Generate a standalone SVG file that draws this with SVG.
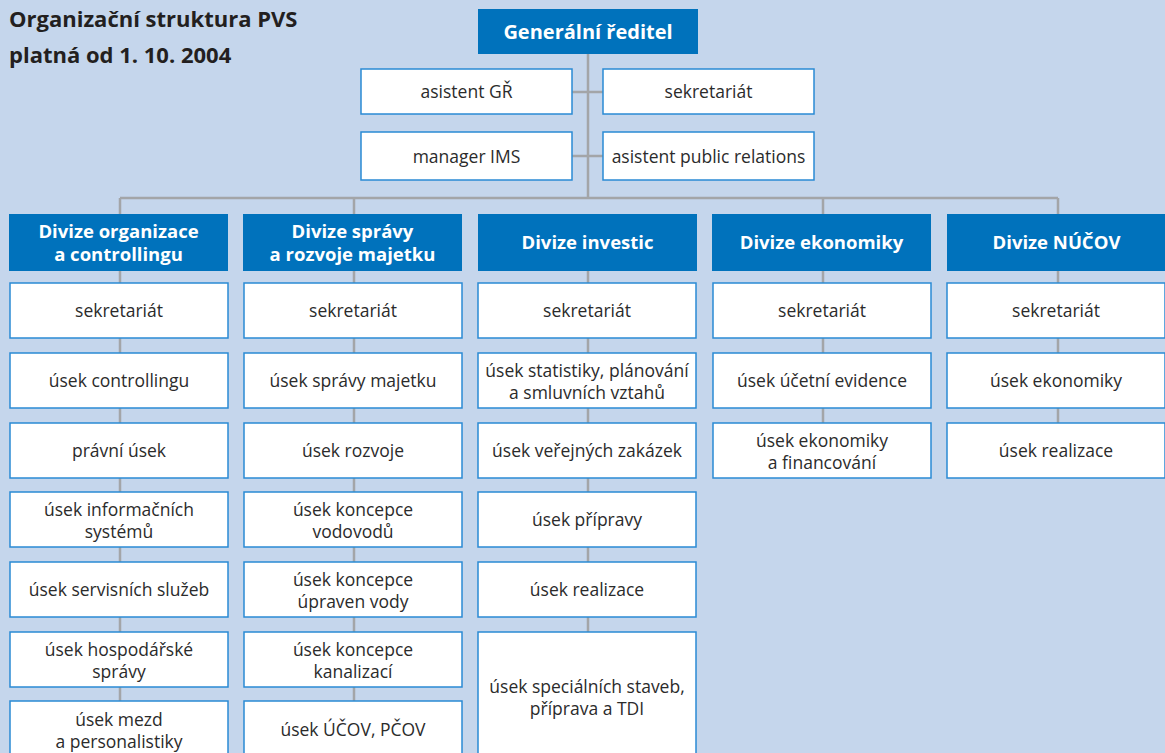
<svg xmlns="http://www.w3.org/2000/svg" width="1165" height="753" viewBox="0 0 1165 753">
<style>
.bg{fill:#c5d6ec}
.hd{fill:#0072bc}
.bx{fill:#ffffff;stroke:#2a8ad4;stroke-width:1.5}
.ln{stroke:#a3a5a8;stroke-width:2.5;fill:none}
.t{font-family:"Open Sans","Noto Sans","Liberation Sans",sans-serif;font-size:17.5px;fill:#2b2b2b;text-anchor:middle}
.h{font-family:"Open Sans","Noto Sans","Liberation Sans",sans-serif;font-size:18.5px;font-weight:bold;fill:#ffffff;text-anchor:middle}
.ti{font-family:"Open Sans","Noto Sans","Liberation Sans",sans-serif;font-size:22px;font-weight:bold;fill:#231f20}
</style>
<rect class="bg" x="0" y="0" width="1165" height="753"/>
<g id="title">
<text class="ti" x="9" y="27">Organizační struktura PVS</text>
<text class="ti" x="9" y="63">platná od 1. 10. 2004</text>
</g>
<g id="connectors">
<path class="ln" d="M588 54 V198 M572 92 H603 M572 156 H603 M120 198 H1058 M120 198 V214 M354 198 V214 M823 198 V214 M1058 198 V214"/>
<path class="ln" d="M120 270 V702 M354 270 V702 M588 270 V632 M823 270 V423 M1058 270 V423"/>
</g>
<g id="gr"><rect class="hd" x="478" y="9" width="220" height="45"/><text class="h" x="588" y="39" style="font-size:20px">Generální ředitel</text></g>
<g id="asistent-gr"><rect class="bx" x="361" y="69" width="211" height="45"/><text class="t" x="466.5" y="98">asistent GŘ</text></g>
<g id="sekretariat-gr"><rect class="bx" x="603" y="69" width="211" height="45"/><text class="t" x="708.5" y="98">sekretariát</text></g>
<g id="manager-ims"><rect class="bx" x="361" y="132" width="211" height="48"/><text class="t" x="466.5" y="163">manager IMS</text></g>
<g id="asistent-pr"><rect class="bx" x="603" y="132" width="211" height="48"/><text class="t" x="708.5" y="163">asistent public relations</text></g>

<g id="div1"><rect class="hd" x="9" y="214" width="219" height="57"/><text class="h" x="118.5" y="238">Divize organizace</text><text class="h" x="118.5" y="261">a controllingu</text></g>
<g id="div2"><rect class="hd" x="243" y="214" width="219" height="57"/><text class="h" x="352.5" y="238">Divize správy</text><text class="h" x="352.5" y="261">a rozvoje majetku</text></g>
<g id="div3"><rect class="hd" x="478" y="214" width="219" height="57"/><text class="h" x="587.5" y="249">Divize investic</text></g>
<g id="div4"><rect class="hd" x="712" y="214" width="219" height="57"/><text class="h" x="821.5" y="249">Divize ekonomiky</text></g>
<g id="div5"><rect class="hd" x="947" y="214" width="219" height="57"/><text class="h" x="1056.5" y="249">Divize NÚČOV</text></g>

<g id="c1-1"><rect class="bx" x="10" y="283" width="218" height="55"/><text class="t" x="119" y="317">sekretariát</text></g>
<g id="c1-2"><rect class="bx" x="10" y="353" width="218" height="55"/><text class="t" x="119" y="387">úsek controllingu</text></g>
<g id="c1-3"><rect class="bx" x="10" y="423" width="218" height="55"/><text class="t" x="119" y="457">právní úsek</text></g>
<g id="c1-4"><rect class="bx" x="10" y="492" width="218" height="55"/><text class="t" x="119" y="515.5">úsek informačních</text><text class="t" x="119" y="537.5">systémů</text></g>
<g id="c1-5"><rect class="bx" x="10" y="562" width="218" height="55"/><text class="t" x="119" y="596">úsek servisních služeb</text></g>
<g id="c1-6"><rect class="bx" x="10" y="632" width="218" height="55"/><text class="t" x="119" y="655.5">úsek hospodářské</text><text class="t" x="119" y="677.5">správy</text></g>
<g id="c1-7"><rect class="bx" x="10" y="701" width="218" height="62"/><text class="t" x="119" y="725.5">úsek mezd</text><text class="t" x="119" y="747.5">a personalistiky</text></g>

<g id="c2-1"><rect class="bx" x="244" y="283" width="218" height="55"/><text class="t" x="353" y="317">sekretariát</text></g>
<g id="c2-2"><rect class="bx" x="244" y="353" width="218" height="55"/><text class="t" x="353" y="387">úsek správy majetku</text></g>
<g id="c2-3"><rect class="bx" x="244" y="423" width="218" height="55"/><text class="t" x="353" y="457">úsek rozvoje</text></g>
<g id="c2-4"><rect class="bx" x="244" y="492" width="218" height="55"/><text class="t" x="353" y="515.5">úsek koncepce</text><text class="t" x="353" y="537.5">vodovodů</text></g>
<g id="c2-5"><rect class="bx" x="244" y="562" width="218" height="55"/><text class="t" x="353" y="585.5">úsek koncepce</text><text class="t" x="353" y="607.5">úpraven vody</text></g>
<g id="c2-6"><rect class="bx" x="244" y="632" width="218" height="55"/><text class="t" x="353" y="655.5">úsek koncepce</text><text class="t" x="353" y="677.5">kanalizací</text></g>
<g id="c2-7"><rect class="bx" x="244" y="701" width="218" height="62"/><text class="t" x="353" y="736">úsek ÚČOV, PČOV</text></g>

<g id="c3-1"><rect class="bx" x="478" y="283" width="218" height="55"/><text class="t" x="587" y="317">sekretariát</text></g>
<g id="c3-2"><rect class="bx" x="478" y="353" width="218" height="55"/><text class="t" x="587" y="376.5">úsek statistiky, plánování</text><text class="t" x="587" y="398.5">a smluvních vztahů</text></g>
<g id="c3-3"><rect class="bx" x="478" y="423" width="218" height="55"/><text class="t" x="587" y="457">úsek veřejných zakázek</text></g>
<g id="c3-4"><rect class="bx" x="478" y="492" width="218" height="55"/><text class="t" x="587" y="526">úsek přípravy</text></g>
<g id="c3-5"><rect class="bx" x="478" y="562" width="218" height="55"/><text class="t" x="587" y="596">úsek realizace</text></g>
<g id="c3-6"><rect class="bx" x="478" y="632" width="218" height="130"/><text class="t" x="587" y="692.5">úsek speciálních staveb,</text><text class="t" x="587" y="714.5">příprava a TDI</text></g>

<g id="c4-1"><rect class="bx" x="713" y="283" width="218" height="55"/><text class="t" x="822" y="317">sekretariát</text></g>
<g id="c4-2"><rect class="bx" x="713" y="353" width="218" height="55"/><text class="t" x="822" y="387">úsek účetní evidence</text></g>
<g id="c4-3"><rect class="bx" x="713" y="423" width="218" height="55"/><text class="t" x="822" y="446.5">úsek ekonomiky</text><text class="t" x="822" y="468.5">a financování</text></g>

<g id="c5-1"><rect class="bx" x="947" y="283" width="218" height="55"/><text class="t" x="1056" y="317">sekretariát</text></g>
<g id="c5-2"><rect class="bx" x="947" y="353" width="218" height="55"/><text class="t" x="1056" y="387">úsek ekonomiky</text></g>
<g id="c5-3"><rect class="bx" x="947" y="423" width="218" height="55"/><text class="t" x="1056" y="457">úsek realizace</text></g>
</svg>
